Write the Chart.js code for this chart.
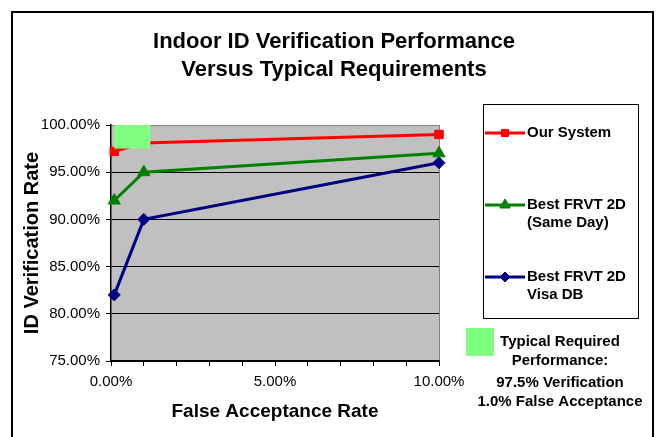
<!DOCTYPE html>
<html>
<head>
<meta charset="UTF-8">
<title>Indoor ID Verification Performance</title>
<script src="https://cdn.jsdelivr.net/npm/chart.js"></script>
<style>
  body { margin: 0; background: #fff; }
  canvas { display: block; }
</style>
</head>
<body>
<canvas id="perfChart" width="657" height="437"></canvas>
<script>
// false acceptance rate (%) and verification rate (%) per series
const ourFar = [0.1, 1, 10];
const ourVer = [97.2, 98.1, 99];
const sameDayFar = [0.1, 1, 10];
const sameDayVer = [92, 95, 97];
const visaFar = [0.1, 1, 10];
const visaVer = [82, 90, 96];
// typical required performance region
const reqFar = [0.1, 1.2];
const reqVer = [97.5, 100];

const titleLines = ['Indoor ID Verification Performance', 'Versus Typical Requirements'];
const reqLines = ['Typical Required', 'Performance:', '97.5% Verification', '1.0% False Acceptance'];
const seriesNames = [['Our System'], ['Best FRVT 2D', '(Same Day)'], ['Best FRVT 2D', 'Visa DB']];

const toPoints = (xs, ys) => xs.map((x, i) => ({ x: x, y: ys[i] }));
const FONT = 'Arial, "Liberation Sans", sans-serif';

const datasets = [
    { label: 'Our System', data: toPoints(ourFar, ourVer), borderColor: '#ff0000', backgroundColor: '#ff0000',
      pointStyle: 'rect', pointRadius: 6 },
    { label: 'Best FRVT 2D (Same Day)', data: toPoints(sameDayFar, sameDayVer), borderColor: '#008000', backgroundColor: '#008000',
      pointStyle: 'triangle', pointRadius: 7 },
    { label: 'Best FRVT 2D Visa DB', data: toPoints(visaFar, visaVer), borderColor: '#000080', backgroundColor: '#000080',
      pointStyle: 'rectRot', pointRadius: 6 }
].map(d => Object.assign(d, { borderWidth: 3, pointBorderWidth: 1, tension: 0, clip: false }));

const decor = {
    id: 'decor',
    beforeDraw(chart) {
        const ctx = chart.ctx, a = chart.chartArea;
        ctx.save();
        ctx.fillStyle = '#fff';
        ctx.fillRect(0, 0, chart.width, chart.height);
        ctx.strokeStyle = '#000';
        ctx.lineWidth = 2;
        ctx.strokeRect(12, 12, 641, 440);
        ctx.fillStyle = '#c0c0c0';
        ctx.fillRect(a.left, a.top, a.right - a.left, a.bottom - a.top);
        ctx.restore();
    },
    afterDatasetsDraw(chart) {
        const ctx = chart.ctx, xs = chart.scales.x, ys = chart.scales.y;
        const x0 = xs.getPixelForValue(reqFar[0]), x1 = xs.getPixelForValue(reqFar[1]);
        const y0 = ys.getPixelForValue(reqVer[1]), y1 = ys.getPixelForValue(reqVer[0]);
        ctx.save();
        ctx.fillStyle = '#80ff80';
        ctx.fillRect(x0, y0, x1 - x0, y1 - y0);
        ctx.restore();
    },
    afterDraw(chart) {
        const ctx = chart.ctx;
        ctx.save();
        ctx.fillStyle = '#000';
        ctx.textAlign = 'center';
        ctx.textBaseline = 'middle';
        ctx.font = 'bold 22px ' + FONT;
        titleLines.forEach((t, i) => ctx.fillText(t, 334, 42 + i * 28));

        // legend box
        ctx.strokeStyle = '#000';
        ctx.lineWidth = 1;
        ctx.strokeRect(483.5, 104.5, 155, 214);
        const rowY = [133, 205, 277];
        ctx.font = 'bold 15px ' + FONT;
        ctx.textAlign = 'left';
        datasets.forEach((d, i) => {
            const y = rowY[i];
            ctx.strokeStyle = d.borderColor;
            ctx.lineWidth = 3;
            ctx.beginPath();
            ctx.moveTo(485, y);
            ctx.lineTo(525, y);
            ctx.stroke();
            ctx.fillStyle = d.backgroundColor;
            ctx.lineWidth = 1;
            Chart.helpers.drawPoint(ctx, { pointStyle: d.pointStyle, radius: d.pointRadius - 1, borderWidth: 1, rotation: 0 }, 505, y);
            ctx.fillStyle = '#000';
            seriesNames[i].forEach((t, j) => ctx.fillText(t, 527, y + j * 18));
        });

        // typical requirement key
        ctx.fillStyle = '#80ff80';
        ctx.fillRect(466, 328, 28, 28);
        ctx.fillStyle = '#000';
        ctx.textAlign = 'center';
        const reqY = [342, 361, 383, 402];
        reqLines.forEach((t, i) => ctx.fillText(t, 560, reqY[i]));
        ctx.restore();
    }
};

new Chart(document.getElementById('perfChart'), {
    type: 'line',
    data: { datasets: datasets },
    plugins: [decor],
    options: {
        responsive: false,
        animation: false,
        layout: { padding: { top: 125, right: 218, left: 0, bottom: 0 } },
        plugins: { legend: { display: false }, title: { display: false }, tooltip: { enabled: false } },
        scales: {
            x: {
                type: 'linear', min: 0, max: 10,
                afterFit: s => { s.height = 76; },
                ticks: {
                    stepSize: 1, autoSkip: false, maxRotation: 0, padding: 7, color: '#000',
                    font: { family: FONT, size: 15 },
                    callback: v => (v % 5 === 0 ? v.toFixed(2) + '%' : '')
                },
                grid: {
                    color: c => (c.tick && c.tick.value === 10 ? '#808080' : 'rgba(0,0,0,0)'),
                    tickColor: '#000', tickLength: 5, lineWidth: 1
                },
                border: { display: true, color: '#000', width: 1.5 },
                title: { display: true, text: 'False Acceptance Rate', color: '#000',
                         font: { family: FONT, size: 19, weight: 'bold' }, padding: { bottom: 14 } }
            },
            y: {
                min: 75, max: 100,
                afterFit: s => { s.width = 111; },
                ticks: {
                    stepSize: 5, padding: 6, color: '#000',
                    font: { family: FONT, size: 15 },
                    callback: v => v.toFixed(2) + '%'
                },
                grid: {
                    color: c => (c.tick && c.tick.value === 100 ? '#808080' : '#000'),
                    tickColor: '#000', tickLength: 5, lineWidth: 1
                },
                border: { display: true, color: '#000', width: 1.5 },
                title: { display: true, text: 'ID Verification Rate', color: '#000',
                         font: { family: FONT, size: 20, weight: 'bold' }, padding: { top: 20 } }
            }
        }
    }
});
</script>
</body>
</html>
